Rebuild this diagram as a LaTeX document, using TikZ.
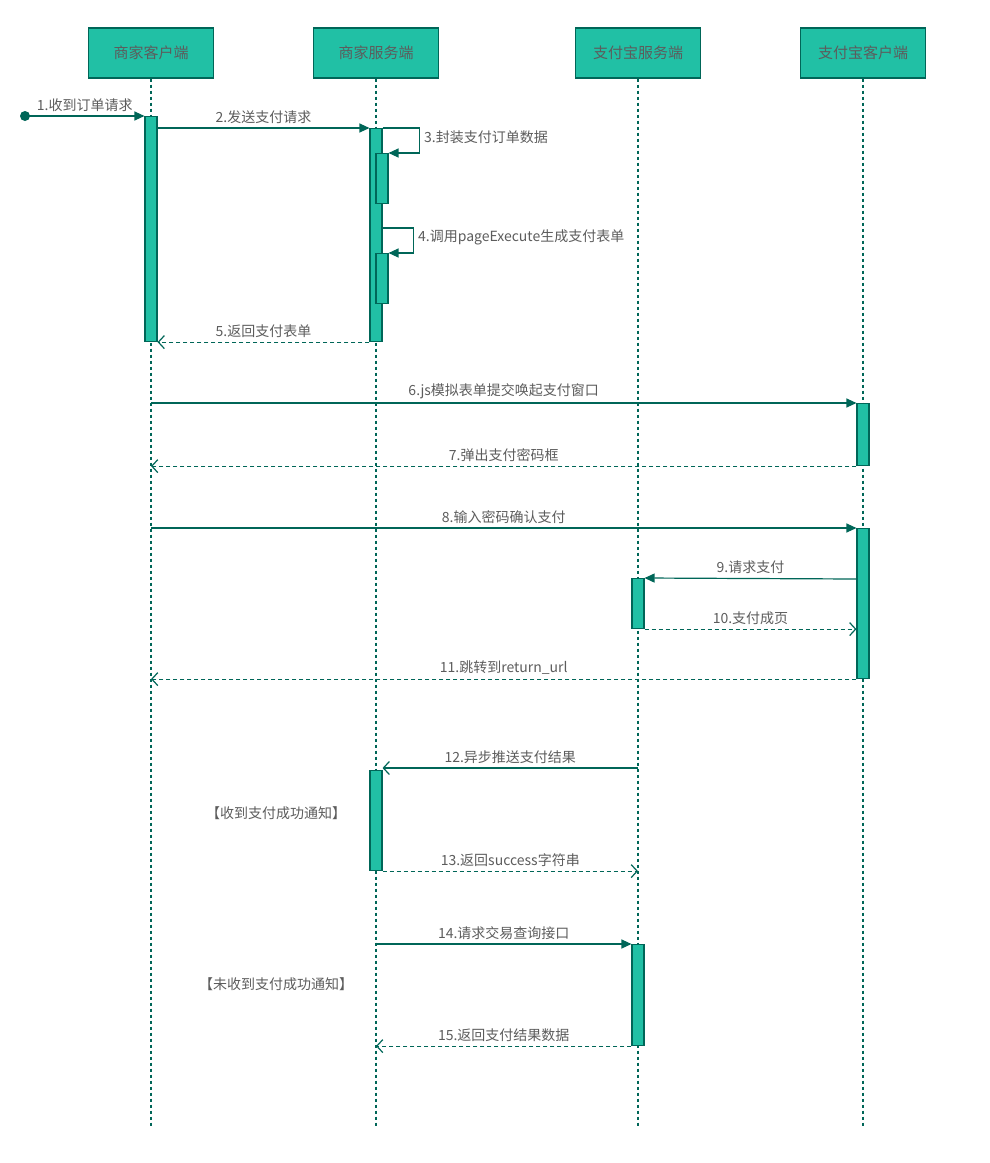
\documentclass[tikz,border=0pt]{standalone}
\usepackage{fontspec}
\setmainfont{Noto Sans CJK SC}
\usetikzlibrary{arrows.meta,calc}
\definecolor{boxfill}{HTML}{21C0A5}
\definecolor{boxline}{HTML}{006658}
\definecolor{labeltext}{HTML}{5C5C5C}
\tikzset{
    % header boxes and activation bars
    header/.style={draw=boxline,fill=boxfill,line width=1.2pt,minimum width=125pt,minimum height=50pt,
        text=labeltext,font=\fontsize{15}{18}\selectfont},
    act/.style={draw=boxline,fill=boxfill,line width=1.1pt,minimum width=12pt,inner sep=0pt,anchor=north},
    life/.style={boxline,line width=1.1pt,dash pattern=on 3pt off 3pt},
    % messages
    call/.style={boxline,line width=1.2pt,-{Triangle[length=10pt,width=9pt]}},
    async/.style={boxline,line width=1.2pt,-{Straight Barb[length=6pt,width=13pt]}},
    reply/.style={boxline,line width=1.2pt,dash pattern=on 4pt off 3pt,-{Straight Barb[length=6pt,width=13pt]}},
    lbl/.style={text=labeltext,font=\fontsize{14}{17}\selectfont,inner sep=4pt},
}
\begin{document}
\begin{tikzpicture}[x=1pt,y=-1pt]
    \useasboundingbox (0,0) rectangle (990,1163);
    \node[header] (mc) at (151,53) {商家客户端};
    \node[header] (ms) at (376,53) {商家服务端};
    \node[header] (as) at (638,53) {支付宝服务端};
    \node[header] (ac) at (863,53) {支付宝客户端};
    \foreach \p in {mc,ms,as,ac}
    \draw[life] (\p.south) -- ++(0,1047);
    % activation bars
    \node[act,minimum height=225pt] (mca) at (151,116) {};
    \node[act,minimum height=213pt] (msa) at (376,128) {};
    \node[act,minimum height=50pt] (msb) at (382,153) {};
    \node[act,minimum height=50pt] (msc) at (382,253) {};
    \node[act,minimum height=62pt] (aca) at (863,403) {};
    \node[act,minimum height=150pt] (acb) at (863,528) {};
    \node[act,minimum height=50pt] (asa) at (638,578) {};
    \node[act,minimum height=100pt] (msd) at (376,770) {};
    \node[act,minimum height=101pt] (asb) at (638,944) {};
    \fill[boxline] (25,116) circle [radius=5pt] coordinate (start);
    % messages
    \draw[call] (start) -- node[lbl,above] {1.收到订单请求} (mca.north west);
    \draw[call] (mca.east |- msa.north) -- node[lbl,above] {2.发送支付请求} (msa.north west);
    \draw[call] (msa.north east) -- ++(37,0) node[lbl,anchor=west,yshift=-9pt] {3.封装支付订单数据} |- (msb.north east);
    \draw[call] (msa.east |- 0,228) -- ++(31,0) node[lbl,anchor=west,yshift=-9pt] {4.调用pageExecute生成支付表单} |- (msc.north east);
    \draw[reply] (msa.south west) -- node[lbl,above] {5.返回支付表单} (mca.south east);
    \draw[call] (mc |- aca.north) -- node[lbl,above] {6.js模拟表单提交唤起支付窗口} (aca.north west);
    \draw[reply] (aca.south west) -- node[lbl,above] {7.弹出支付密码框} (mc |- aca.south);
    \draw[call] (mc |- acb.north) -- node[lbl,above] {8.输入密码确认支付} (acb.north west);
    \draw[call] (acb.west |- 0,579) -- node[lbl,above] {9.请求支付} (asa.north east);
    \draw[reply] (asa.south east) -- node[lbl,above] {10.支付成页} (acb.west |- asa.south);
    \draw[reply] (acb.south west) -- node[lbl,above] {11.跳转到return\_url} (mc |- acb.south);
    \draw[async] (as |- 0,768) -- node[lbl,above] {12.异步推送支付结果} (msd.east |- 0,768);
    \draw[reply] (msd.south east) -- node[lbl,above] {13.返回success字符串} (as |- msd.south);
    \draw[call] (ms |- asb.north) -- node[lbl,above] {14.请求交易查询接口} (asb.north west);
    \draw[reply] (asb.south west) -- node[lbl,above] {15.返回支付结果数据} (ms |- asb.south);
    % notes
    \node[lbl] (okn) at (276,813) {【收到支付成功通知】};
    \node[lbl] (non) at (276,984) {【未收到支付成功通知】};
\end{tikzpicture}
\end{document}
